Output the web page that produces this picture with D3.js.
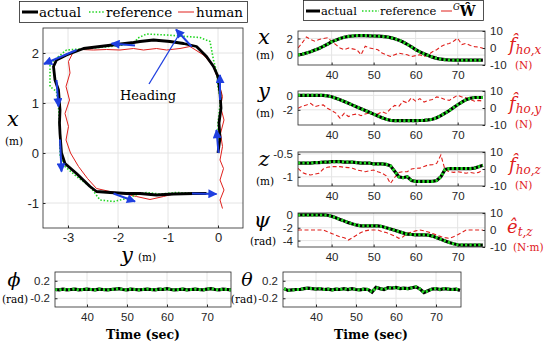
<!DOCTYPE html>
<html lang="en">
<head>
<meta charset="utf-8">
<title>Trajectory tracking</title>
<script src="https://cdn.jsdelivr.net/npm/d3@7"></script>
<style>
body { margin: 0; background: #fff; }
.tick text { font-family: "Liberation Sans", Arial, sans-serif; fill: #262626; }
.tick line { stroke: #262626; }
</style>
</head>
<body>
<script>
// ---------------- data ----------------
var TIME = [32,33,34,35,36,37,38,39,40,41,42,43,44,45,46,47,48,49,50,51,52,53,54,
            55,56,57,58,59,60,61,62,63,64,65,66,67,68,69,70,71,72,73,74,75,76];

var X_POS = [0,0.1,0.25,0.4,0.6, 0.8,1.05,1.3,1.6,1.8, 2.0,2.15,2.25,2.3,2.35,
             2.35,2.35,2.32,2.3,2.28, 2.25,2.2,2.1,1.97,1.8, 1.57,1.3,0.98,0.65,0.38,
             0.15,-0.05,-0.25,-0.4,-0.5, -0.56,-0.6,-0.62,-0.62,-0.62, -0.62,-0.62,-0.62,-0.62,-0.62];
var Y_POS = [0,0,0,0,0, 0,0,-0.08,-0.2,-0.4, -0.6,-0.85,-1.1,-1.35,-1.6,
             -1.85,-2.1,-2.35,-2.6,-2.85, -3.1,-3.3,-3.45,-3.5,-3.5, -3.5,-3.5,-3.5,-3.5,-3.48,
             -3.45,-3.4,-3.3,-3.1,-2.8, -2.45,-2.1,-1.7,-1.3,-0.95, -0.6,-0.4,-0.3,-0.3,-0.3];
var Z_POS = [-0.7,-0.7,-0.7,-0.7,-0.69, -0.69,-0.68,-0.68,-0.67,-0.67, -0.67,-0.68,-0.68,-0.68,-0.69,
             -0.7,-0.7,-0.7,-0.72,-0.72, -0.72,-0.73,-0.76,-0.88,-1.0, -1.02,-1.0,-1.08,-1.1,-1.1,
             -1.1,-1.1,-1.1,-1.08,-1.0, -0.84,-0.82,-0.82,-0.82,-0.82, -0.82,-0.82,-0.81,-0.78,-0.75];
var PSI = [0,0,0,0,0, 0,0,-0.05,-0.2,-0.45, -0.7,-0.95,-1.2,-1.4,-1.6,
           -1.7,-1.7,-1.7,-1.7,-1.72, -1.8,-2.0,-2.2,-2.4,-2.6, -2.8,-3.0,-3.05,-3.1,-3.1,
           -3.1,-3.15,-3.3,-3.55,-3.8, -4.05,-4.3,-4.5,-4.65,-4.7, -4.7,-4.7,-4.7,-4.7,-4.7];
var PHI = [0,-0.01,0.01,-0.01,0, 0.01,-0.01,0,0.01,0, -0.01,0.01,0,-0.01,0,
           0.01,0.02,0,-0.01,0.01, 0,-0.01,0,0.01,0, -0.01,0.01,0,0.02,0,
           -0.01,0,0.01,-0.01,0, 0.01,0,-0.01,0.01,0.02, 0,-0.01,0.01,0,-0.01];
var THETA = [0.02,-0.02,-0.01,0,0, 0.02,0.03,0.02,0.01,0.02, 0,0.01,-0.01,0.01,0,
             0.02,0,0.02,0,-0.01, 0.01,0,-0.06,0.05,0.02, 0,0.04,0.03,0.05,0.02,
             0.03,0.02,0.04,0.06,0.01, -0.07,-0.03,0.01,0.02,0, 0.02,0.01,0,0.01,-0.02];

// human wrench estimates (right axes)
var F_X = [0,3,6.5,5,4, 5,5.5,6,4,2, 0,-1,0,-0.5,-1, -4,1,0,-0.5,-1, -3,-4,-5,-4,-3,
           -3.5,-4,-5,-4.5,-4, -5,-4,-2.2,-1,0.8, 2,2.7,4,5.7,2, 2.7,1.5,0.8,0.5,-0.2];
var F_Y = [-0.2,1,1.8,2.7,0.8, 1.5,1.8,-0.2,-1.5,-3, -6,-3.1,-5,-4,-3.5, -4.5,-3.5,-3,-4,-3.5,
           -2.2,-3.2,-0.5,1.5,1, 4,3,6,4,5.5, 3.5,4.5,5,6.5,6, 5,4.5,6,7.5,6.5, 6,5,4,4.5,4];
var F_Z = [0.4,-2,-3,-3.5,-3, -2.5,0,1,1.4,1.4, 1.4,1,0.8,0.4,-0.6, -1,-1.6,-1,-0.6,-1.6,
           -2.5,-4,-8.5,-5,-2, -1.6,-1.6,0,0.4,0.5, 1.5,2.4,2.5,3.3,8.2, -0.6,-1.6,-2,-1.6,-2,
           -2.5,-2,-2.5,-2,-0.6];
var E_Z = [0,0,0,0,0, 0,0,-1,-2,-3, -4,-4.5,-5.9,-4.5,-2.9, -1.5,-0.5,0,0,0,
           -1,-1.5,-2.5,-3.5,-4.9, -4,-2,-1.2,-0.5,0, -0.5,-1.2,-2,-3,-3.9, -4.5,-4.9,-4,-2.8,-1.5,
           0,0,0,0,0];

// top view path, [y, x] in metres
var PATH_ACTUAL = [[0,0],[0.04,0.3],[0.02,0.6],[0.06,0.9],[0.04,1.2],[0,1.53],[-0.09,1.73],[-0.23,1.93],
  [-0.43,2.13],[-0.69,2.19],[-0.96,2.23],[-1.29,2.26],[-1.56,2.23],[-1.69,2.21],[-2.03,2.17],[-2.36,2.13],
  [-2.69,2.09],[-3.03,1.96],[-3.23,1.86],[-3.29,1.73],[-3.26,1.46],[-3.19,1.26],[-3.16,0.86],[-3.17,0.6],
  [-3.16,0.39],[-3.13,0],[-3.06,-0.21],[-2.83,-0.41],[-2.56,-0.67],[-2.43,-0.77],[-2.16,-0.79],[-1.83,-0.81],
  [-1.56,-0.81],[-1.23,-0.84],[-0.89,-0.82],[-0.49,-0.81],[-0.23,-0.81]];
var PATH_REF = [[0,0],[0,0.6],[0.05,1.06],[0,1.33],[-0.03,1.63],[-0.09,1.86],[-0.16,2.23],[-0.36,2.31],
  [-1.03,2.36],[-1.43,2.38],[-1.6,2.3],[-1.69,2.19],[-2.16,2.13],[-2.63,2.09],[-3.03,2.06],[-3.36,1.79],
  [-3.36,1.33],[-3.23,1.23],[-3.19,0.93],[-3.16,0.39],[-3.16,-0.07],[-3.06,-0.27],[-2.83,-0.47],
  [-2.56,-0.67],[-2.36,-0.94],[-2.09,-0.97],[-1.83,-0.91],[-1.56,-0.81],[-1.43,-0.79],[-1.16,-0.82],
  [-0.83,-0.79],[-0.36,-0.81],[-0.09,-0.81]];
var PATH_HUMAN = [[0.09,-1.11],[0.04,-0.94],[0.12,-0.74],[0.04,-0.54],[0.11,-0.31],[0.04,-0.14],[0.09,0.13],
  [0.05,0.39],[0.12,0.66],[0.05,0.93],[0.09,1.13],[0,1.46],[-0.09,1.73],[-0.29,1.96],[-0.56,2.13],
  [-0.76,2.09],[-1.03,2.06],[-1.23,2.09],[-1.49,2.06],[-1.69,2.09],[-1.96,2.06],[-2.23,2.07],[-2.49,2.06],
  [-2.73,2.07],[-2.89,2.03],[-2.99,1.83],[-2.96,1.6],[-3.04,1.33],[-2.97,1.06],[-3.06,0.79],[-2.99,0.53],
  [-3.04,0.26],[-2.95,0],[-2.79,-0.27],[-2.61,-0.51],[-2.43,-0.71],[-2.16,-0.77],[-1.89,-0.81],
  [-1.63,-0.87],[-1.36,-0.93],[-1.09,-0.87],[-0.89,-0.82]];
// heading arrows: [tailY, tailX, headY, headX]
var HEADINGS = [[0.01,0,-0.03,0.46],[0.04,1.06,0.04,1.56],[-0.53,2.13,-0.84,2.47],[-1.66,2.15,-2.13,2.19],
  [-2.83,2.06,-3.48,1.78],[-3.23,1.46,-3.19,0.93],[-3.16,0.27,-3.13,-0.37],[-2.09,-0.81,-1.66,-0.97],
  [-0.52,-0.81,-0.03,-0.82]];
var HEADING_NOTE = [-1.38, 1.38, -0.76, 2.4];

var TIME_TICKS = [40, 50, 60, 70];
var FORCE_TICKS = [-10, 0, 10];

// ---------------- style ----------------
var SERIF = "'DejaVu Serif', serif";
var RED = "#e0201c", GREEN = "#22d622", BLUE = "#1f3fe0", GRID = "#e4e4e4", EDGE = "#262626";
var plain = function(d) { return String(d); };   // keep hyphen minus like the original

var svg = d3.select("body").append("svg").attr("width", 550).attr("height", 350);
var clipId = 0;

function panel(o) {
  var xs = d3.scaleLinear().domain(o.xdom).range([o.x0, o.x1]);
  var ys = d3.scaleLinear().domain(o.ydom).range([o.y1, o.y0]);
  var g = svg.append("g");
  g.selectAll(null).data(o.xticks).enter().append("line")
    .attr("x1", function(d) { return xs(d); }).attr("x2", function(d) { return xs(d); })
    .attr("y1", o.y0).attr("y2", o.y1).attr("stroke", GRID);
  g.selectAll(null).data(o.yticks).enter().append("line")
    .attr("y1", function(d) { return ys(d); }).attr("y2", function(d) { return ys(d); })
    .attr("x1", o.x0).attr("x2", o.x1).attr("stroke", GRID);

  var ax = g.append("g").attr("transform", "translate(0," + o.y1 + ")")
    .call(d3.axisBottom(xs).tickValues(o.xticks).tickFormat(plain)
      .tickSizeInner(-2.5).tickSizeOuter(0).tickPadding(o.xpad || 6));
  var ay = g.append("g").attr("transform", "translate(" + o.x0 + ",0)")
    .call(d3.axisLeft(ys).tickValues(o.yticks).tickFormat(plain)
      .tickSizeInner(-2.5).tickSizeOuter(0).tickPadding(o.ypad || 5));
  [ax, ay].forEach(function(a) {
    a.select(".domain").remove();
    a.selectAll("text").style("font-size", o.fs + "px");
  });
  var ry = null;
  if (o.rdom) {
    ry = d3.scaleLinear().domain(o.rdom).range([o.y1, o.y0]);
    var ar = g.append("g").attr("transform", "translate(" + o.x1 + ",0)")
      .call(d3.axisRight(ry).tickValues(FORCE_TICKS).tickFormat(plain)
        .tickSizeInner(-2.5).tickSizeOuter(0).tickPadding(5));
    ar.select(".domain").remove();
    ar.selectAll("text").style("font-size", o.fs + "px");
  }
  var id = "clip" + (clipId++);
  svg.append("clipPath").attr("id", id).append("rect")
    .attr("x", o.x0).attr("y", o.y0).attr("width", o.x1 - o.x0).attr("height", o.y1 - o.y0);
  var plot = g.append("g").attr("clip-path", "url(#" + id + ")");
  g.append("rect").attr("x", o.x0).attr("y", o.y0).attr("width", o.x1 - o.x0).attr("height", o.y1 - o.y0)
    .attr("fill", "none").attr("stroke", EDGE).attr("stroke-width", 0.8);
  return { xs: xs, ys: ys, ry: ry, plot: plot };
}

function series(p, vals, scale) {
  return d3.line().x(function(d, i) { return p.xs(TIME[i]); })
                  .y(function(d) { return scale(d); })(vals);
}

function trackPair(p, vals) {
  p.plot.append("path").attr("d", series(p, vals, p.ys)).attr("fill", "none")
    .attr("stroke", "#000").attr("stroke-width", 3.2);
  p.plot.append("path").attr("d", series(p, vals, p.ys)).attr("fill", "none")
    .attr("stroke", GREEN).attr("stroke-width", 3).attr("stroke-dasharray", "2.2,2.2");
}

function forceLine(p, vals) {
  p.plot.append("path").attr("d", series(p, vals, p.ry)).attr("fill", "none")
    .attr("stroke", RED).attr("stroke-width", 1.1).attr("stroke-dasharray", "4,2.5");
}

function leftLabel(x, y, sym, unit, uy, size, anchor, ux) {
  svg.append("text").attr("x", x).attr("y", y).attr("text-anchor", "middle")
    .style("font-family", SERIF).style("font-style", "italic").style("font-size", (size || 21) + "px").text(sym);
  svg.append("text").attr("x", ux || x + 1).attr("y", uy).attr("text-anchor", anchor || "middle")
    .style("font-family", SERIF).style("font-size", "10.5px").text(unit);
}

function rightLabel(x, y, base, sub, unit) {
  var t = svg.append("text").attr("x", x).attr("y", y).attr("fill", RED)
    .style("font-family", SERIF).style("font-style", "italic").style("font-size", "18px");
  t.append("tspan").text(base);
  t.append("tspan").attr("dy", 3).style("font-size", "12px").text(sub);
  svg.append("text").attr("x", x + 6).attr("y", y + 18).attr("fill", RED)
    .style("font-family", SERIF).style("font-size", "10.5px").text(unit);
}

// ---------------- top view ----------------
var topView = panel({ x0: 43, x1: 243, y0: 28, y1: 228, xdom: [-3.5, 0.5], ydom: [-1.5, 2.5],
  xticks: [-3, -2, -1, 0], yticks: [-1, 0, 1, 2], fs: 13, xpad: 5, ypad: 4 });
var pathLine = d3.line().x(function(d) { return topView.xs(d[0]); }).y(function(d) { return topView.ys(d[1]); });
topView.plot.append("path").attr("d", pathLine(PATH_HUMAN)).attr("fill", "none")
  .attr("stroke", RED).attr("stroke-width", 1);
topView.plot.append("path").attr("d", pathLine(PATH_REF)).attr("fill", "none")
  .attr("stroke", GREEN).attr("stroke-width", 1.6).attr("stroke-dasharray", "1.5,1.8");
topView.plot.append("path").attr("d", pathLine(PATH_ACTUAL)).attr("fill", "none")
  .attr("stroke", "#000").attr("stroke-width", 2.8).attr("stroke-linejoin", "round");

svg.append("defs").append("marker").attr("id", "head").attr("viewBox", "0 0 10 10")
  .attr("refX", 9).attr("refY", 5).attr("markerWidth", 5).attr("markerHeight", 4.5)
  .attr("orient", "auto").append("path").attr("d", "M0,0L10,5L0,10z").attr("fill", BLUE);
svg.append("g").selectAll("line").data(HEADINGS).enter().append("line")
  .attr("x1", function(d) { return topView.xs(d[0]); }).attr("y1", function(d) { return topView.ys(d[1]); })
  .attr("x2", function(d) { return topView.xs(d[2]); }).attr("y2", function(d) { return topView.ys(d[3]); })
  .attr("stroke", BLUE).attr("stroke-width", 2).attr("marker-end", "url(#head)");
svg.append("line").attr("x1", topView.xs(HEADING_NOTE[0])).attr("y1", topView.ys(HEADING_NOTE[1]))
  .attr("x2", topView.xs(HEADING_NOTE[2])).attr("y2", topView.ys(HEADING_NOTE[3]))
  .attr("stroke", BLUE).attr("stroke-width", 1.3);
svg.append("text").attr("x", 148).attr("y", 100).attr("text-anchor", "middle")
  .style("font-family", SERIF).style("font-size", "13px").text("Heading");

leftLabel(13, 126, "x", "(m)", 145);
svg.append("text").attr("x", 127).attr("y", 262).attr("text-anchor", "middle")
  .style("font-family", SERIF).style("font-style", "italic").style("font-size", "21px").text("y");
svg.append("text").attr("x", 138).attr("y", 261)
  .style("font-family", SERIF).style("font-size", "10.5px").text("(m)");

// left legend
var lg = svg.append("g");
lg.append("rect").attr("x", 19.5).attr("y", 1.5).attr("width", 228).attr("height", 21)
  .attr("fill", "#fff").attr("stroke", EDGE).attr("stroke-width", 0.8);
lg.append("line").attr("x1", 22).attr("x2", 38).attr("y1", 12).attr("y2", 12).attr("stroke", "#000").attr("stroke-width", 3);
lg.append("line").attr("x1", 89).attr("x2", 105).attr("y1", 12).attr("y2", 12).attr("stroke", GREEN)
  .attr("stroke-width", 1.6).attr("stroke-dasharray", "1.5,1.8");
lg.append("line").attr("x1", 178).attr("x2", 194).attr("y1", 12).attr("y2", 12).attr("stroke", RED).attr("stroke-width", 1);
[["actual", 39], ["reference", 106], ["human", 196]].forEach(function(d) {
  lg.append("text").attr("x", d[1]).attr("y", 17).style("font-family", SERIF).style("font-size", "13.5px").text(d[0]);
});

// ---------------- time panels (right) ----------------
var TX0 = 298, TX1 = 485;
var pX = panel({ x0: TX0, x1: TX1, y0: 31, y1: 65, xdom: [32, 76.5], ydom: [-1.2, 2.9],
  xticks: TIME_TICKS, yticks: [0, 2], rdom: [-10, 10], fs: 11.5 });
var pY = panel({ x0: TX0, x1: TX1, y0: 91, y1: 125, xdom: [32, 76.5], ydom: [-4.1, 0.6],
  xticks: TIME_TICKS, yticks: [-2, 0], rdom: [-10, 10], fs: 11.5 });
var pZ = panel({ x0: TX0, x1: TX1, y0: 152, y1: 186, xdom: [32, 76.5], ydom: [-1.2, -0.46],
  xticks: TIME_TICKS, yticks: [-1, -0.5], rdom: [-10, 10], fs: 11.5 });
var pP = panel({ x0: TX0, x1: TX1, y0: 213, y1: 247, xdom: [32, 76.5], ydom: [-5, 0.3],
  xticks: TIME_TICKS, yticks: [-4, -2, 0], rdom: [-10, 10], fs: 11.5 });

[[pX, X_POS, F_X], [pY, Y_POS, F_Y], [pZ, Z_POS, F_Z], [pP, PSI, E_Z]].forEach(function(d) {
  forceLine(d[0], d[2]);
  trackPair(d[0], d[1]);
});

leftLabel(264, 44, "x", "(m)", 59);
leftLabel(264, 98, "y", "(m)", 117);
leftLabel(264, 166, "z", "(m)", 185);
leftLabel(262, 227, "\u03c8", "(rad)", 245);

rightLabel(509, 51, "f\u0302", "ho,x", "(N)");
rightLabel(509, 110, "f\u0302", "ho,y", "(N)");
rightLabel(509, 171, "f\u0302", "ho,z", "(N)");
rightLabel(507, 233, "e\u0302", "t,z", "(N\u00b7m)");

// right legend
var rg = svg.append("g");
rg.append("rect").attr("x", 303.5).attr("y", 0.5).attr("width", 180).attr("height", 20)
  .attr("fill", "#fff").attr("stroke", EDGE).attr("stroke-width", 0.8);
rg.append("line").attr("x1", 306).attr("x2", 320).attr("y1", 11).attr("y2", 11).attr("stroke", "#000").attr("stroke-width", 3);
rg.append("line").attr("x1", 362).attr("x2", 379).attr("y1", 11).attr("y2", 11).attr("stroke", GREEN)
  .attr("stroke-width", 1.6).attr("stroke-dasharray", "1.5,1.8");
rg.append("line").attr("x1", 441).attr("x2", 452).attr("y1", 11).attr("y2", 11).attr("stroke", RED).attr("stroke-width", 1);
[["actual", 321], ["reference", 380]].forEach(function(d) {
  rg.append("text").attr("x", d[1]).attr("y", 15).style("font-family", SERIF).style("font-size", "11.5px").text(d[0]);
});
var wt = rg.append("text").attr("x", 453).attr("y", 16).style("font-family", SERIF);
wt.append("tspan").attr("dy", -6).style("font-style", "italic").style("font-size", "8.5px").text("G");
wt.append("tspan").attr("dy", 6).style("font-weight", "bold").style("font-size", "14px").text("W\u0302");

// ---------------- attitude panels (bottom) ----------------
var pPhi = panel({ x0: 55, x1: 231, y0: 272, y1: 307, xdom: [32, 76], ydom: [-0.4, 0.4],
  xticks: TIME_TICKS, yticks: [-0.2, 0.2], fs: 11.5 });
var pTh = panel({ x0: 283, x1: 461, y0: 272, y1: 307, xdom: [31.75, 76.25], ydom: [-0.4, 0.4],
  xticks: TIME_TICKS, yticks: [-0.2, 0.2], fs: 11.5 });
trackPair(pPhi, PHI);
trackPair(pTh, THETA);

leftLabel(14, 286, "\u03d5", "(rad)", 303, 19);
leftLabel(247, 286, "\u03b8", "(rad)", 303, 19, "end", 257);
svg.selectAll(".time-label").data([143, 371]).enter().append("text")
  .attr("x", function(d) { return d; }).attr("y", 339).attr("text-anchor", "middle")
  .style("font-family", SERIF).style("font-size", "12.5px").style("font-weight", "bold")
  .text("Time (sec)");
</script>
</body>
</html>
